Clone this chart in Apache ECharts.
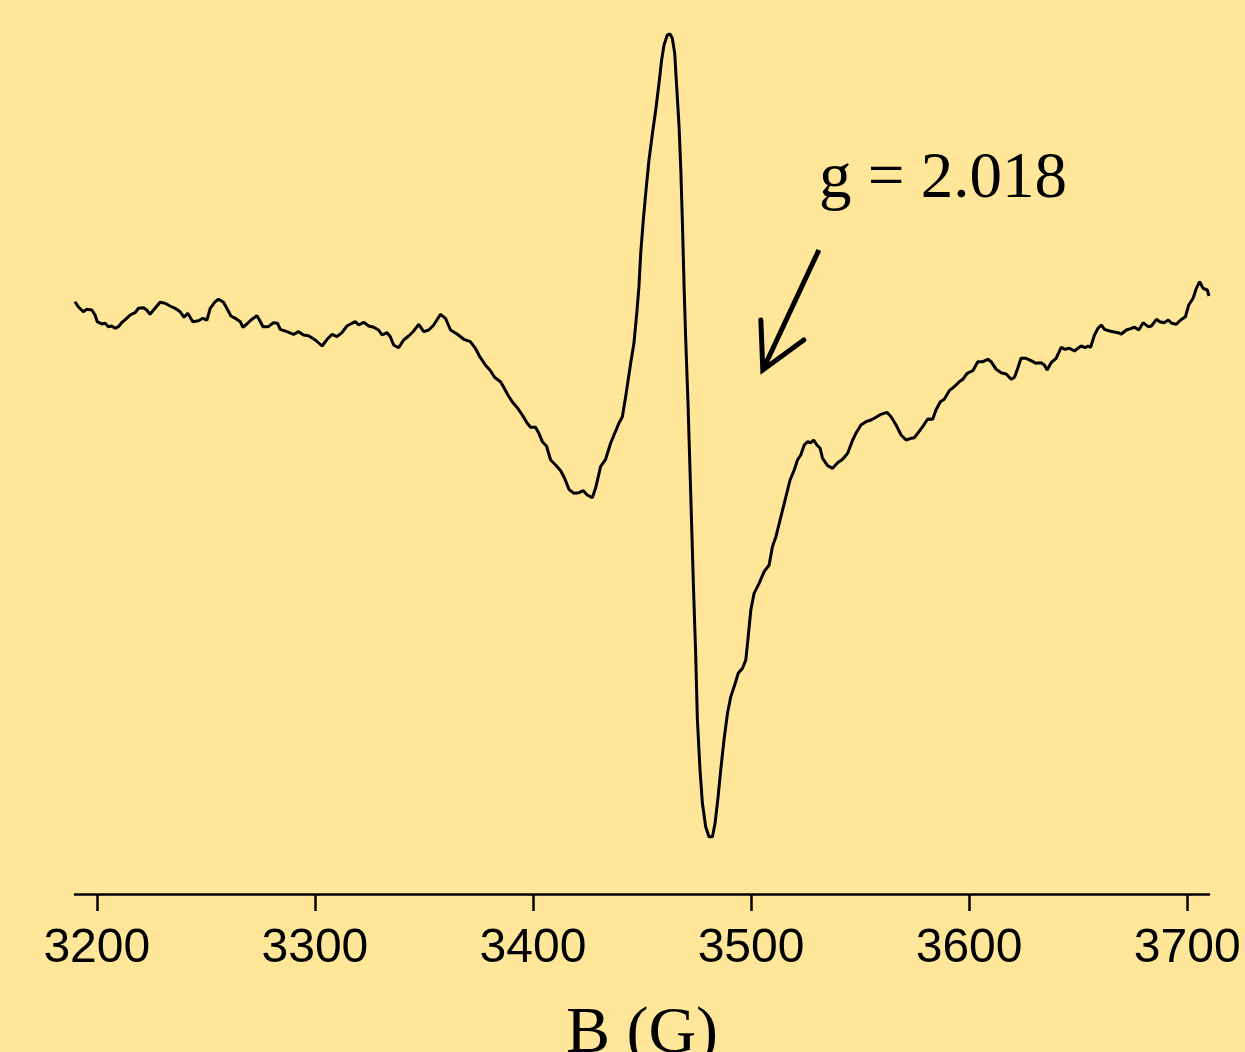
<!DOCTYPE html>
<html>
<head>
<meta charset="utf-8">
<title>EPR spectrum</title>
<script src="https://cdn.jsdelivr.net/npm/echarts@6.0.0/dist/echarts.min.js"></script>
<style>
  html, body { margin: 0; padding: 0; background: #ffe699; }
  #chart { width: 1245px; height: 1052px; }
</style>
</head>
<body>
<div id="chart"></div>
<script>
// magnetic field (G) and first-derivative EPR intensity (arb. units)
var fieldG = [
  3190.0, 3191.5, 3193.8, 3195.4, 3197.7, 3199.2, 3200.2, 3202.3, 3203.8, 3205.3,
  3206.8, 3208.4, 3209.9, 3211.4, 3213.7, 3215.3, 3217.5, 3219.1, 3221.4, 3222.9,
  3224.4, 3226.7, 3229.0, 3231.3, 3233.6, 3235.9, 3238.2, 3240.0, 3241.7, 3244.0,
  3246.6, 3248.6, 3250.5, 3252.0, 3254.3, 3255.8, 3258.1, 3259.6, 3261.5, 3263.5,
  3265.8, 3267.0, 3268.8, 3270.7, 3273.4, 3274.6, 3276.2, 3278.7, 3281.0, 3282.9,
  3284.1, 3287.2, 3290.2, 3292.5, 3294.8, 3297.1, 3300.2, 3303.3, 3305.6, 3307.9,
  3310.1, 3312.4, 3314.7, 3317.0, 3318.5, 3320.1, 3322.4, 3324.7, 3327.0, 3329.2,
  3330.8, 3333.1, 3334.6, 3336.1, 3338.4, 3340.7, 3343.0, 3345.3, 3347.6, 3349.9,
  3352.2, 3354.5, 3357.6, 3359.9, 3362.2, 3365.2, 3368.3, 3371.3, 3373.6, 3375.6,
  3378.2, 3380.5, 3382.4, 3385.1, 3386.6, 3388.5, 3390.5, 3392.8, 3395.1, 3397.4,
  3398.9, 3401.2, 3402.7, 3404.3, 3406.2, 3408.1, 3410.4, 3412.7, 3414.5, 3416.5,
  3418.8, 3421.1, 3423.1, 3424.9, 3427.2, 3428.7, 3431.0, 3433.3, 3435.6, 3437.5,
  3439.4, 3441.0, 3442.5, 3444.8, 3446.3, 3447.6, 3448.6, 3449.4, 3450.6, 3451.7,
  3453.2, 3454.8, 3456.3, 3457.8, 3459.0, 3460.1, 3461.6, 3462.8, 3463.9, 3465.0,
  3465.9, 3467.0, 3467.8, 3468.5, 3469.3, 3470.0, 3471.1, 3471.6, 3472.7, 3473.6,
  3474.6, 3475.4, 3476.6, 3477.7, 3479.2, 3480.7, 3482.3, 3483.5, 3484.9, 3486.1,
  3487.6, 3489.2, 3490.7, 3492.5, 3494.1, 3496.1, 3497.6, 3498.7, 3499.9, 3501.4,
  3503.7, 3506.0, 3508.3, 3509.8, 3511.4, 3513.7, 3516.0, 3517.9, 3519.8, 3521.3,
  3522.8, 3524.4, 3525.9, 3527.4, 3528.7, 3530.2, 3531.7, 3532.8, 3535.1, 3537.4,
  3539.7, 3542.0, 3544.3, 3546.6, 3548.1, 3550.4, 3552.7, 3555.0, 3557.3, 3559.6,
  3562.3, 3564.2, 3566.5, 3568.8, 3571.1, 3573.3, 3574.9, 3576.4, 3578.7, 3581.0,
  3583.3, 3584.8, 3586.8, 3588.6, 3590.9, 3593.2, 3595.5, 3597.1, 3599.1, 3601.7,
  3604.0, 3606.3, 3608.6, 3610.1, 3612.4, 3614.7, 3617.0, 3619.3, 3620.8, 3622.3,
  3623.8, 3626.1, 3628.4, 3630.7, 3633.0, 3634.5, 3635.8, 3637.6, 3639.9, 3642.2,
  3644.0, 3646.0, 3648.3, 3649.9, 3651.4, 3653.2, 3654.5, 3655.7, 3657.5, 3659.1,
  3660.6, 3662.1, 3664.4, 3666.0, 3668.3, 3669.8, 3672.1, 3674.4, 3675.9, 3677.8,
  3679.8, 3682.1, 3683.6, 3685.9, 3687.4, 3689.4, 3691.3, 3693.0, 3695.0, 3697.0,
  3699.2, 3700.7, 3702.7, 3704.2, 3705.7, 3707.3, 3709.2, 3710.0
];
var intensity = [
  92.3, 87.3, 82.3, 84.7, 84.0, 79.0, 72.3, 70.0, 70.7, 67.3,
  68.0, 65.7, 67.3, 71.3, 75.7, 79.0, 81.3, 85.7, 86.3, 84.0,
  79.7, 85.7, 91.7, 90.7, 88.0, 85.7, 82.3, 76.7, 80.7, 72.3,
  73.3, 75.7, 74.0, 85.7, 92.3, 94.7, 91.7, 85.7, 78.0, 75.7,
  72.3, 66.7, 70.0, 74.0, 78.3, 74.0, 67.3, 67.3, 71.3, 70.7,
  64.7, 62.3, 59.7, 62.3, 59.0, 58.3, 54.0, 48.0, 54.7, 59.7,
  57.3, 61.3, 68.0, 70.7, 72.3, 69.0, 71.7, 68.0, 66.7, 64.0,
  59.0, 61.3, 57.3, 49.0, 46.3, 54.0, 58.0, 63.0, 69.7, 62.3,
  64.0, 69.0, 79.7, 75.7, 64.0, 60.0, 54.7, 52.3, 45.7, 37.3,
  29.0, 23.3, 16.7, 12.3, 6.7, -1.0, -7.7, -13.7, -21.0, -29.3,
  -33.3, -33.3, -39.3, -47.7, -52.0, -66.0, -71.0, -76.7, -84.3, -95.3,
  -99.3, -98.7, -96.7, -101.0, -103.7, -94.3, -72.7, -65.3, -49.3, -39.3,
  -29.3, -22.7, -2.7, 30.7, 50.7, 80.7, 107.3, 140.7, 174.0, 200.7,
  234.0, 260.7, 284.0, 310.7, 334.0, 349.0, 359.0, 360.0, 355.7, 340.7,
  307.3, 267.3, 224.0, 174.0, 107.3, 57.3, -9.3, -46.0, -126.0, -192.7,
  -259.3, -326.0, -376.0, -409.3, -432.7, -442.7, -442.7, -429.3, -402.7, -376.0,
  -346.0, -319.3, -302.7, -291.0, -279.3, -274.3, -266.0, -242.7, -216.0, -199.3,
  -189.3, -177.7, -171.0, -152.7, -142.7, -122.7, -102.7, -86.0, -76.0, -66.0,
  -61.0, -51.0, -47.7, -48.7, -46.0, -51.0, -54.3, -64.3, -71.7, -74.3,
  -68.7, -65.3, -59.3, -46.0, -39.3, -31.0, -27.7, -26.0, -23.3, -20.3,
  -18.3, -22.7, -31.0, -41.0, -46.0, -44.3, -43.7, -39.3, -32.7, -25.0,
  -25.3, -16.0, -7.7, -5.3, 3.3, 7.3, 12.3, 14.7, 20.7, 23.3,
  32.3, 32.3, 34.7, 32.3, 24.7, 21.3, 20.0, 14.7, 16.7, 25.7,
  35.7, 35.7, 33.3, 30.7, 31.3, 29.0, 24.0, 31.3, 35.7, 46.7,
  44.7, 45.7, 43.0, 45.7, 48.0, 46.3, 48.0, 46.7, 59.0, 65.7,
  69.0, 64.7, 63.0, 62.3, 61.3, 60.0, 64.0, 65.7, 66.7, 64.0,
  71.3, 67.3, 68.0, 74.7, 72.3, 71.3, 74.0, 70.7, 69.7, 74.0,
  77.3, 89.0, 95.7, 105.7, 112.3, 105.7, 104.0, 98.0
];
var fieldTicks = [3200, 3300, 3400, 3500, 3600, 3700];

// annotation, in data coordinates
var gLabel = 'g = 2.018';
var gLabelAt = [3531.2, 214];
var arrowTail = [3531.1, 144];
var arrowTip = [3505.4, 24];
var arrowWings = [[3504.5, 74], [3524.2, 54]];

var chart = echarts.init(document.getElementById('chart'));

var points = fieldG.map(function (b, i) { return [b, intensity[i]]; });

chart.setOption({
  backgroundColor: '#ffe699',
  animation: false,
  grid: { left: 75, right: 36, top: 14, bottom: 158, outerBoundsMode: 'none' },
  xAxis: {
    type: 'value',
    min: 3190,
    max: 3710,
    name: 'B (G)',
    nameLocation: 'middle',
    nameGap: 108,
    nameMoveOverlap: false,
    nameTextStyle: { fontFamily: 'Liberation Serif', fontSize: 66, color: '#000' },
    axisLine: { onZero: false, lineStyle: { color: '#000', width: 2.5 } },
    axisTick: { customValues: fieldTicks, length: 17, lineStyle: { color: '#000', width: 2.5 } },
    axisLabel: {
      customValues: fieldTicks,
      margin: 31,
      fontFamily: 'Liberation Sans',
      fontSize: 48,
      color: '#000',
      formatter: function (v) { return String(v); }
    },
    splitLine: { show: false }
  },
  yAxis: { type: 'value', min: -500, max: 380, show: false },
  series: [{
    type: 'line',
    data: points,
    symbol: 'none',
    smooth: false,
    lineStyle: { color: '#000', width: 3 }
  }]
});

function px(p) { return chart.convertToPixel({ xAxisIndex: 0, yAxisIndex: 0 }, p); }

var tip = px(arrowTip);
chart.setOption({
  graphic: [
    {
      type: 'text',
      x: px(gLabelAt)[0],
      y: px(gLabelAt)[1],
      style: {
        text: gLabel,
        fontFamily: 'Liberation Serif',
        fontSize: 65,
        fill: '#000',
        textAlign: 'left',
        textVerticalAlign: 'middle'
      }
    },
    {
      type: 'polyline',
      shape: { points: [px(arrowTail), tip] },
      style: { stroke: '#000', lineWidth: 5, fill: null }
    },
    {
      type: 'polyline',
      shape: { points: [px(arrowWings[0]), tip, px(arrowWings[1])] },
      style: { stroke: '#000', lineWidth: 5, fill: null, lineCap: 'round', lineJoin: 'miter' }
    }
  ]
});
</script>
</body>
</html>
